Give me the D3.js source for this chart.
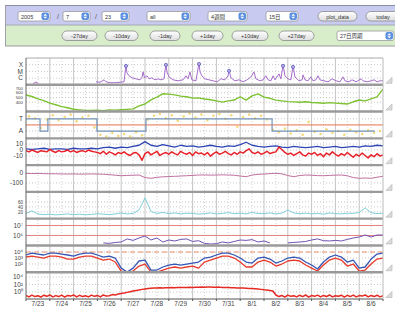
<!DOCTYPE html>
<html>
<head>
<meta charset="utf-8">
<script src="https://cdn.jsdelivr.net/npm/d3@7"></script>
<style>
body { margin: 0; background: #fff; }
svg { display: block; font-family: "Liberation Sans", "Noto Sans CJK JP", sans-serif; }
</style>
</head>
<body>
<svg></svg>
<script>
const width = 395, height = 309;
const dateLabels = ['7/23','7/24','7/25','7/26','7/27','7/28','7/29','7/30','7/31','8/1','8/2','8/3','8/4','8/5','8/6'];

// x-ray flux, [day, W/m2]; null breaks the line
const xray = [[0.30,1.5e-7],[0.42,2.6e-7],[0.52,1.5e-7],[0.6,null],
  [2.94,2.8e-7],[3.11,2.4e-7],[3.28,5.5e-7],[3.36,2.8e-7],[3.53,2.0e-7],[3.74,2.0e-7],[3.95,2.4e-7],[4.12,2.8e-7],
  [4.20,9.1e-5],[4.24,6e-6],[4.33,2.2e-6],[4.45,1.1e-6],[4.62,7.7e-7],[4.79,5.5e-7],[4.87,1.1e-6],[4.92,8.5e-6],
  [4.98,1.1e-6],[5.08,2.2e-6],[5.17,7.7e-7],[5.29,1.1e-6],[5.42,5.5e-7],[5.55,7.7e-7],[5.67,5.5e-7],[5.80,7.7e-7],
  [5.88,1.3e-4],[5.92,8.5e-6],[6.01,1.5e-6],[6.18,5.5e-7],[6.39,3.9e-7],[6.60,5.5e-7],[6.72,2.2e-6],[6.81,7.7e-7],
  [6.89,8.5e-6],[6.97,5.5e-7],[7.14,3.9e-7],[7.27,1.8e-4],[7.31,8.5e-6],[7.39,2.2e-6],[7.52,7.7e-7],[7.69,5.5e-7],
  [7.86,3.9e-7],[8.03,2.8e-7],[8.19,7.7e-7],[8.36,5.5e-7],[8.49,2.2e-6],[8.53,1.7e-5],[8.61,1.1e-6],[8.78,3.9e-7],
  [8.95,5.5e-7],[9.12,2.8e-7],[9.29,5.5e-7],[9.45,1.5e-6],[9.58,8.5e-6],[9.66,7.7e-7],[9.83,3.9e-7],[9.96,5.5e-7],
  [10.08,2.2e-6],[10.17,5.5e-7],[10.29,3.9e-7],[10.38,2.2e-6],[10.46,5.5e-7],[10.63,4.3e-6],[10.71,7.7e-7],
  [10.80,9.1e-5],[10.88,2.2e-6],[11.01,7.7e-7],[11.13,5.5e-7],[11.22,6.5e-5],[11.30,1.5e-6],[11.47,3.9e-7],
  [11.60,5.5e-7],[11.64,3.0e-6],[11.72,5.5e-7],[11.85,3.9e-7],[11.97,1.5e-6],[12.06,3.9e-7],[12.18,5.5e-7],
  [12.27,2.2e-6],[12.35,5.5e-7],[12.52,3.9e-7],[12.69,2.8e-7],[12.86,7.7e-7],[13.03,3.9e-7],[13.19,2.8e-7],
  [13.32,1.5e-6],[13.40,3.9e-7],[13.57,2.8e-7],[13.70,5.5e-7],[13.87,2.8e-7],[14.08,7.7e-7],[14.16,3.9e-7],
  [14.33,2.8e-7],[14.50,3.9e-7],[14.62,5.5e-7],[14.75,2.8e-7],[14.87,3.9e-7],[15.0,3.9e-7]];
const flareMarks = [[4.20,9.1e-5],[5.88,1.3e-4],[7.27,1.8e-4],[8.53,1.7e-5],[10.80,9.1e-5],[11.22,6.5e-5]];

// solar wind speed km/s, every 6h
const windSpeed = [553,520,470,432,380,345,305,282,248,236,226,221,228,219,236,230,238,247,258,322,
  360,450,508,578,570,556,528,515,486,492,466,450,428,401,428,445,515,444,535,575,
  508,482,444,428,412,406,398,410,392,386,378,389,380,372,360,408,446,428,470,512,681];

// IMF sector (T=+1 / A=-1) and angle scatter (every 6h, offset 3h)
const sectorStart = [0, 0.59, 0.92, 2.98, 5.04, 10.34, 14.66];
const sectorSign = [1, -1, 1, -1, 1, -1, -1];
const imfAngle = [1.4,1.1,-0.5,0.9,1.6,0.8,1.3,1.7,0.6,1.2,1.5,-0.4,-1.6,-1.9,-1.3,-1.8,-1.5,-1.9,-1.2,-1.7,
  0.9,1.5,1.8,1.1,1.6,0.7,1.4,1.9,1.2,1.7,0.8,1.5,1.8,1.0,1.6,-0.3,1.3,1.7,1.1,1.5,
  0.9,-0.8,-1.2,-0.6,-1.4,-0.9,-1.6,0.5,-1.1,-1.5,-0.7,-1.3,-1.0,-1.6,-0.8,-1.2,-1.5,-0.9,-1.3,-1.0];

// magnetic field nT: bt every 6h, bz every 3h
const bt = [2,1,2,3,1,2,2,1,3,2,2,3,2,4,5,3,5,4,6,8,14,8,6,9,7,5,8,6,7,5,6,8,6,5,7,6,9,13,8,6,
  5,6,7,5,4,6,5,4,5,6,4,5,6,4,5,6,5,7,6,8,7];
const bz = [-1,-3,0,-2,-4,-1,-2,-3,1,-2,-4,-1,-3,-2,0,-3,-1,-4,-2,-1,-3,0,-2,-3,
  -4,-6,-2,-7,-3,-5,-8,-4,-6,-3,-7,-9,-5,-4,-8,-17,-6,
  -3,-8,-5,-2,-9,-6,-4,-7,-3,-6,-8,-2,-5,-7,-4,-9,-3,-6,-5,
  -8,-4,-10,-6,-3,-7,-5,-2,-6,-8,-4,-7,-3,-5,-1,2,-4,-6,-3,-7,-5,-2,-6,-4,
  -3,5,1,-4,-7,-5,-9,-6,-3,-8,-10,-5,-7,-4,-9,-6,-11,-5,-8,-3,-7,-10,-6,-9,-4,-8,-12,-7,-10,-5,-9,-13,-8,-11,-6,-10,-8];

// Dst nT, every 6h
const dst = [-3,-5,-4,-6,-7,-8,-9,-10,-9,-11,-10,-9,-10,-12,-16,-22,-27,-24,-22,-20,
  -45,-53,-43,-38,-35,-33,-30,-27,-24,-20,-19,-21,-20,-18,-20,-22,-30,-37,-20,-13,
  -10,-6,-3,-8,-25,-37,-25,-20,-22,-26,-27,-24,-21,-20,-28,-45,-53,-50,-53,-42,-33];

// cyan index, every 6h
const density = [14,24,12,9,11,8,10,12,9,11,8,10,13,11,9,12,16,12,14,28,76,22,14,18,13,16,12,15,14,11,
  13,16,12,14,17,13,15,12,18,14,13,16,12,15,28,16,13,15,12,14,11,16,13,12,15,14,18,36,17,13,15];

// electron flux from day 3.25, every 6h
const electron = [1.8e5,1.6e5,2.0e5,2.2e5,4.5e5,3.2e5,5.6e5,8.9e5,3.5e5,5.6e5,2.2e5,3.5e5,2.8e5,4.0e5,4.5e5,
  2.5e5,3.0e5,1.6e5,1.4e5,1.5e5,2.2e5,1.8e5,2.5e5,3.5e5,3.2e5,3.8e5,2.2e5,2.8e5,1.8e5,null,null,
  1.8e5,2.0e5,2.2e5,2.5e5,3.5e5,4.5e5,3.0e5,2.8e5,3.2e5,2.8e5,4.0e5,5.6e5,7.0e5,1.1e6,7.0e5,1.1e6,1.1e6];
const electronLines = [1e7, 1e6];

// two flux channels, every 6h
const fluxBlue = [3200,6800,4600,3200,6800,6800,4600,3200,2150,4600,6800,6800,3200,1470,2150,1000,
  21,4.6,21,320,460,10,10,32,68,100,68,100,147,215,1000,
  1470,3200,6800,6800,3200,1000,215,147,1000,1470,680,147,320,1000,1470,1000,215,68,15,215,
  1470,3200,1470,215,460,21,32,680,4600,6800];
const fluxRed = [1470,2150,1470,1000,2150,2150,1470,680,680,1470,2150,2150,1000,460,680,215,
  6.8,4.6,6.8,46,100,4.6,4.6,10,21,32,21,32,46,21,215,
  460,1000,2150,2150,1000,215,32,32,215,460,215,46,100,320,460,320,68,21,6.8,68,
  460,1000,460,46,100,6.8,10,100,680,1000];
const fluxLimit = 1e4;

// proton flux, every 3h
const proton = [0.12,0.05,0.15,0.06,0.1,0.045,0.14,0.07,0.16,0.05,0.11,0.06,0.15,0.045,0.12,0.08,0.16,0.05,0.13,0.06,0.1,0.05,0.15,0.07,0.12,0.05,0.16,0.08,
  0.1,0.2,0.15,0.29,0.4,0.54,0.8,1.2,1.85,2.5,3.4,5,6.3,8,10,11.7,
  12,13,11.7,14,13,15,14,16,15,17,16,18,17,19,18,20,19,21.5,20,19,18,20,17,16,15,14,13,12,
  12,11,10,9,8,7,6.3,5,4,3.4,2.5,1.85,
  0.16,0.06,0.12,0.045,0.15,0.07,0.1,0.05,0.14,0.06,0.16,0.045,0.11,0.07,0.15,0.05,0.12,0.06,0.16,0.05,0.1,0.07,0.14,0.045,0.13,0.06,0.15,0.05,0.11,0.08,0.16,0.05,0.12,0.06,0.14,0.05,0.1];

const series = (vals, step, start = 0) => vals.map((v, i) => [start + i * step, v]);

const svg = d3.select("svg").attr("width", width).attr("height", height);

// ---------- toolbars ----------
const defs = svg.append("defs");
const grad = defs.append("linearGradient").attr("id", "btn").attr("x1", 0).attr("y1", 0).attr("x2", 0).attr("y2", 1);
grad.append("stop").attr("offset", "0%").attr("stop-color", "#ffffff");
grad.append("stop").attr("offset", "100%").attr("stop-color", "#dedede");

const bar = svg.append("g");
bar.append("rect").attr("x", 5).attr("y", 5).attr("width", 390).attr("height", 20).attr("fill", "#c8cbef");
bar.append("rect").attr("x", 5).attr("y", 25).attr("width", 390).attr("height", 21).attr("fill", "#d8eecb");
bar.append("line").attr("x1", 5).attr("x2", 395).attr("y1", 5.5).attr("y2", 5.5).attr("stroke", "#8c8ea6");
bar.append("line").attr("x1", 5).attr("x2", 395).attr("y1", 25).attr("y2", 25).attr("stroke", "#a4a6b6");
bar.append("line").attr("x1", 5).attr("x2", 395).attr("y1", 46).attr("y2", 46).attr("stroke", "#9c9c9c");
bar.append("line").attr("x1", 5.5).attr("x2", 5.5).attr("y1", 5).attr("y2", 46).attr("stroke", "#a0a0a8");

const selectBox = (x0, y0, w, label) => {
  const g = bar.append("g").attr("transform", `translate(${x0},${y0})`);
  g.append("rect").attr("width", w).attr("height", 9.5).attr("rx", 2)
    .attr("fill", "#fff").attr("stroke", "#9a9a9a").attr("stroke-width", 0.8);
  g.append("rect").attr("x", w - 8.5).attr("y", 1).attr("width", 7.5).attr("height", 7.5).attr("rx", 2).attr("fill", "#5b8fe0");
  g.append("path").attr("d", `M${w-6.7},4.2L${w-4.75},2.2L${w-2.8},4.2Z M${w-6.7},5.3L${w-4.75},7.3L${w-2.8},5.3Z`).attr("fill", "#fff");
  g.append("text").attr("x", 3).attr("y", 7).attr("font-size", 5.5).attr("fill", "#333").text(label);
};
const button = (x0, y0, w, label) => {
  const g = bar.append("g").attr("transform", `translate(${x0},${y0})`);
  g.append("rect").attr("width", w).attr("height", 9.5).attr("rx", 4.75)
    .attr("fill", "url(#btn)").attr("stroke", "#8a8a8a").attr("stroke-width", 0.8);
  g.append("text").attr("x", w / 2).attr("y", 7).attr("text-anchor", "middle")
    .attr("font-size", 5.5).attr("fill", "#333").text(label);
};

selectBox(18, 11.5, 32, "2005");
bar.append("text").attr("x", 57).attr("y", 18.5).attr("font-size", 7).attr("fill", "#555").text("/");
selectBox(63, 11.5, 27, "7");
bar.append("text").attr("x", 95).attr("y", 18.5).attr("font-size", 7).attr("fill", "#555").text("/");
selectBox(102, 11.5, 27, "23");
selectBox(147, 11.5, 43, "all");
selectBox(208, 11.5, 39, "4週間");
selectBox(266, 11.5, 32, "15日");
button(318, 11.5, 39, "plot_data");
button(366, 11.5, 34, "today");

button(62, 31, 35, "-27day");
button(105, 31, 33, "-10day");
button(150, 31, 30, "-1day");
button(192, 31, 31, "+1day");
button(232, 31, 36, "+10day");
button(279, 31, 35, "+27day");
selectBox(337, 31, 57, "27日周期");

// ---------- plot frame ----------
const plotTop = 58, plotBottom = 299, nPanels = 9;
const ph = (plotBottom - plotTop) / nPanels;
const py = i => plotTop + i * ph;
const x = d3.scaleLinear().domain([0, 15]).range([26, 383]);

const scales = [
  d3.scaleLog().domain([1e-7, 1e-3]),
  d3.scaleLinear().domain([200, 770]),
  d3.scaleLinear().domain([-2.2, 2.2]),
  d3.scaleLinear().domain([-25, 19.5]),
  d3.scaleLinear().domain([-190, 80]),
  d3.scaleLinear().domain([-7, 100]),
  d3.scaleLog().domain([1e5, 4.8e7]),
  d3.scaleLog().domain([4.3, 1.26e5]),
  d3.scaleLog().domain([0.0135, 1.9e5])
];
scales.forEach((s, i) => s.range([py(i + 1), py(i)]));

const tickSets = [
  [[1e-4, "X"], [1e-5, "M"], [1e-6, "C"]],
  [[700, "700"], [600, "600"], [500, "500"], [400, "400"]],
  [[1, "T"], [-1, "A"]],
  [[10, "10"], [0, "0"], [-10, "-10"]],
  [[0, "0"], [-100, "-100"]],
  [[60, "60"], [40, "40"], [20, "20"]],
  [[1e7, "10⁷"], [1e6, "10⁶"]],
  [[1e4, "10⁴"], [1e3, "10³"], [1e2, "10²"]],
  [[1e4, "10⁴"], [1e2, "10²"], [1, "10⁰"]]
];
// labels that sit close together use a smaller font
const tickFont = [6.5, 4.4, 6.5, 6.5, 6.5, 4.6, 6.5, 5.8, 6.5];

const grid = svg.append("g");
// vertical grid
grid.selectAll("line.half").data(d3.range(0.5, 15, 1)).join("line")
  .attr("x1", d => x(d)).attr("x2", d => x(d)).attr("y1", plotTop).attr("y2", plotBottom)
  .attr("stroke", "#d4d4d4").attr("stroke-dasharray", "1,2");
grid.selectAll("line.day").data(d3.range(1, 15)).join("line")
  .attr("x1", d => x(d)).attr("x2", d => x(d)).attr("y1", plotTop).attr("y2", plotBottom)
  .attr("stroke", "#c4c4c4");

// horizontal dotted grid and labels
tickSets.forEach((ts, i) => {
  const g = svg.append("g");
  g.selectAll("line").data(ts).join("line")
    .attr("x1", x(0)).attr("x2", x(15))
    .attr("y1", d => scales[i](d[0])).attr("y2", d => scales[i](d[0]))
    .attr("stroke", "#c8c8c8").attr("stroke-dasharray", "1,2");
  g.selectAll("text").data(ts).join("text")
    .attr("x", 23).attr("y", d => scales[i](d[0]) + tickFont[i] * 0.35)
    .attr("text-anchor", "end").attr("font-size", tickFont[i]).attr("fill", "#444")
    .text(d => d[1]);
});

// clip per panel
scales.forEach((s, i) => {
  defs.append("clipPath").attr("id", "clip" + i).append("rect")
    .attr("x", x(0)).attr("y", py(i)).attr("width", x(15) - x(0)).attr("height", ph);
});
const panel = i => svg.append("g").attr("clip-path", `url(#clip${i})`);
const drawLine = (i, data, color, w) => panel(i).append("path").datum(data)
  .attr("fill", "none").attr("stroke", color).attr("stroke-width", w).attr("stroke-linejoin", "round")
  .attr("d", d3.line().defined(d => d[1] != null).x(d => x(d[0])).y(d => scales[i](d[1])));

// 1 x-ray
drawLine(0, xray, "#a56ccb", 1);
panel(0).selectAll("circle").data(flareMarks).join("circle")
  .attr("cx", d => x(d[0])).attr("cy", d => scales[0](d[1]) + 1).attr("r", 1.6)
  .attr("fill", "#c0a8e8").attr("stroke", "#5a64b8").attr("stroke-width", 0.8);

// 2 wind speed
drawLine(1, series(windSpeed, 0.25), "#7ec232", 1.4);

// 3 sector
drawLine(2, [[0, 0], [15, 0]], "#e8704a", 1);
panel(2).selectAll("circle").data(series(imfAngle, 0.25, 0.125)).join("circle")
  .attr("cx", d => x(d[0])).attr("cy", d => scales[2](d[1])).attr("r", 1.3)
  .attr("fill", "#f2d264").attr("opacity", 0.85);
panel(2).append("path").datum(sectorStart.map((d, k) => [d, sectorSign[k]]))
  .attr("fill", "none").attr("stroke", "#7393b8").attr("stroke-width", 1.2)
  .attr("d", d3.line().curve(d3.curveStepAfter).x(d => x(d[0])).y(d => scales[2](d[1])));

// 4 magnetic field
drawLine(3, series(bt, 0.25), "#2c44b4", 1.3);
drawLine(3, series(bz, 0.125), "#e8222a", 1.5);

// 5 Dst
drawLine(4, series(dst, 0.25), "#c070a0", 1);

// 6 cyan
drawLine(5, series(density, 0.25), "#7fcfd8", 1);

// 7 electrons
electronLines.forEach(v => drawLine(6, [[0, v], [15, v]], "#e58080", 1));
drawLine(6, series(electron, 0.25, 3.25), "#7052b0", 1);

// 8 flux channels
drawLine(7, [[0, fluxLimit], [15, fluxLimit]], "#f0906c", 1).attr("stroke-dasharray", "5,3");
drawLine(7, series(fluxRed, 0.25), "#e83a2a", 1.3);
drawLine(7, series(fluxBlue, 0.25), "#3456b4", 1.3);

// 9 protons
drawLine(8, series(proton, 0.125), "#e42a22", 1.5);

// separators and frame
svg.selectAll("line.sep").data(d3.range(1, nPanels)).join("line")
  .attr("x1", x(0)).attr("x2", x(15)).attr("y1", d => py(d)).attr("y2", d => py(d))
  .attr("stroke", "#9a9a9a").attr("stroke-width", 2.4);
svg.append("line").attr("x1", x(0)).attr("x2", x(15)).attr("y1", plotTop).attr("y2", plotTop).attr("stroke", "#aaa");
svg.append("line").attr("x1", x(0)).attr("x2", x(15)).attr("y1", plotBottom).attr("y2", plotBottom).attr("stroke", "#555");
svg.append("line").attr("x1", x(0)).attr("x2", x(0)).attr("y1", plotTop).attr("y2", plotBottom).attr("stroke", "#666");
svg.append("line").attr("x1", x(15)).attr("x2", x(15)).attr("y1", plotTop).attr("y2", plotBottom).attr("stroke", "#bbb");

// resize triangles
svg.selectAll("path.tri").data(d3.range(nPanels)).join("path")
  .attr("d", d => { const yb = py(d + 1) - 1.5; return `M386,${yb}L392,${yb}L392,${yb - 6}Z`; })
  .attr("fill", "#dcdcdc").attr("stroke", "#b0b0b0").attr("stroke-width", 0.6);

// x axis
svg.selectAll("line.tk").data(d3.range(0, 16)).join("line")
  .attr("x1", d => x(d)).attr("x2", d => x(d)).attr("y1", plotBottom).attr("y2", plotBottom + 2)
  .attr("stroke", "#555");
svg.selectAll("text.date").data(dateLabels).join("text")
  .attr("x", (d, i) => x(i + 0.5)).attr("y", 306)
  .attr("text-anchor", "middle").attr("font-size", 6.5).attr("fill", "#444")
  .text(d => d);
</script>
</body>
</html>
